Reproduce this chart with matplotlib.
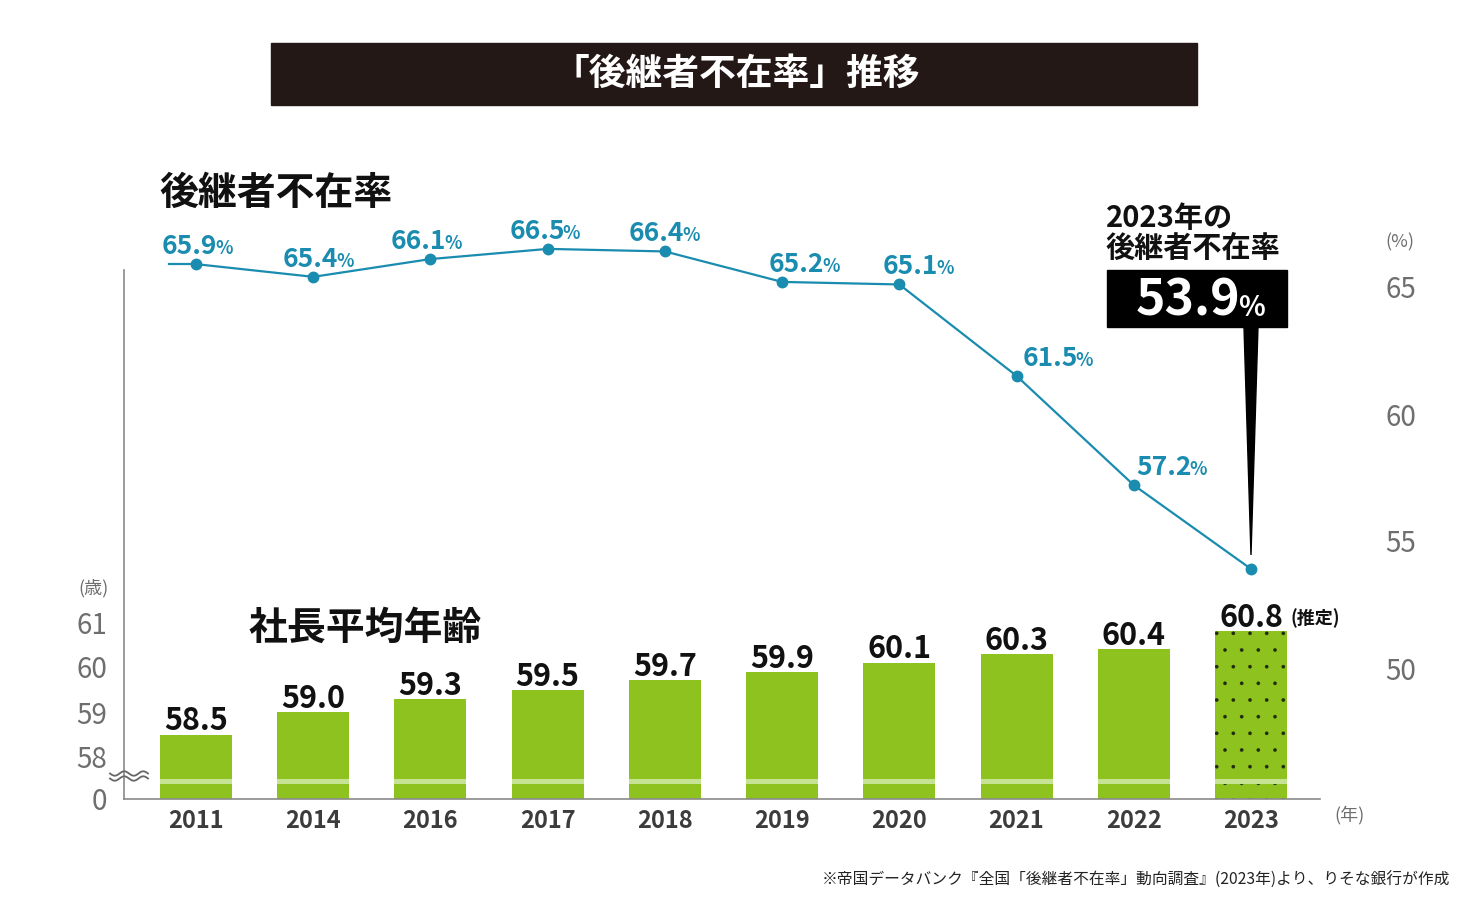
import matplotlib
matplotlib.use('Agg')
import matplotlib.pyplot as plt
from matplotlib.patches import Rectangle, Polygon
import numpy as np

# ---- Data ----
years = ['2011', '2014', '2016', '2017', '2018', '2019', '2020', '2021', '2022', '2023']
absence_rate = [65.9, 65.4, 66.1, 66.5, 66.4, 65.2, 65.1, 61.5, 57.2, 53.9]
avg_age = [58.5, 59.0, 59.3, 59.5, 59.7, 59.9, 60.1, 60.3, 60.4, 60.8]
age_ticks = [58, 59, 60, 61]
rate_ticks = [50, 55, 60, 65]

# ---- Style ----
JP = ['Noto Sans CJK JP', 'DejaVu Sans']
plt.rcParams['font.family'] = JP
plt.rcParams['hatch.linewidth'] = 0.2

W, H = 1468, 900
C_TEAL = '#1a8caf'
C_GREEN = '#8dc21f'
C_STRIPE = '#c6e293'
C_DARK = '#231815'
C_GRAY = '#6e6e6e'
C_AXIS = '#8a8a8a'

BREAK = 42 / 45      # position of "58" above the zero line (left axis units)
PX_AGE = 45          # px per year of age
PX_RATE = 25.4       # px per percentage point


def fx(px):
    return px / W


def fy(py):
    return 1 - py / H


fig = plt.figure(figsize=(W / 100, H / 100), dpi=100)

# ---- Title bar ----
fig.patches.append(Rectangle((fx(271), fy(105)), fx(1197 - 271), (105 - 43) / H,
                             transform=fig.transFigure, color=C_DARK, zorder=0))
fig.text(fx(736), fy(74), '「後継者不在率」推移', color='white', fontsize=26.5,
         fontweight='bold', ha='center', va='center')

# ---- Axes ----
ax_l, ax_r, ax_b, ax_t = 124, 1320, 799, 200
ax = fig.add_axes([fx(ax_l), fy(ax_b), (ax_r - ax_l) / W, (ax_b - ax_t) / H])
x = np.arange(len(years))
step = 117.2
ax.set_xlim(-(196 - ax_l) / step, len(years) - 1 + (ax_r - 1251) / step)
ax.set_ylim(0, (ax_b - ax_t) / PX_AGE)

heights = [BREAK + (a - 58) for a in avg_age]
bw = 72 / step
ax.bar(x[:-1], heights[:-1], width=bw, color=C_GREEN, linewidth=0, zorder=2)
ax.bar(x[-1:], heights[-1:], width=bw, color=C_GREEN, edgecolor='#1f2a10',
       linewidth=0, hatch='.', zorder=2)
# light break stripe across bars
ax.bar(x, [5 / PX_AGE] * len(x), bottom=15 / PX_AGE, width=bw, color=C_STRIPE,
       linewidth=0, zorder=3)

for i, (h, a) in enumerate(zip(heights, avg_age)):
    ax.annotate(f'{a:.1f}', (x[i], h), xytext=(0, -3), textcoords='offset pixels',
                ha='center', va='bottom', fontsize=22, fontweight='bold',
                color='#111111', zorder=5)
ax.annotate('(推定)', (x[-1], heights[-1]), xytext=(40, 3), textcoords='offset pixels',
            ha='left', va='bottom', fontsize=13, fontweight='bold', color='#111111')

ax.set_yticks([0] + [BREAK + (t - 58) for t in age_ticks])
ax.set_yticklabels(['0'] + [str(t) for t in age_ticks])
ax.tick_params(axis='y', length=0, pad=12, labelsize=20, labelcolor=C_GRAY)
ax.set_xticks(x)
ax.set_xticklabels(years)
ax.tick_params(axis='x', length=0, pad=7, labelsize=17, labelcolor='#3c3c3c')
for lab in ax.get_xticklabels():
    lab.set_fontweight('bold')
for s in ['top', 'right']:
    ax.spines[s].set_visible(False)
ax.spines['left'].set_bounds(0, (ax_b - 270) / PX_AGE)
for s in ['left', 'bottom']:
    ax.spines[s].set_color(C_AXIS)
    ax.spines[s].set_linewidth(1.2)

# break marks on left axis
wx = np.linspace(110, 148, 80)
for yc in (773.5, 778.5):
    wy = yc + 2.2 * np.sin((wx - 110) / 19 * 2 * np.pi)
    fig.lines.append(plt.Line2D(fx(wx), fy(wy), transform=fig.transFigure,
                                color='#666666', lw=1.3))

# ---- Rate line (right axis) ----
ax2 = ax.twinx()
r0 = 65 - (ax_b - 287) / PX_RATE
ax2.set_ylim(r0, r0 + (ax_b - ax_t) / PX_RATE)
ax2.plot([x[0] - 0.23, x[0]], [absence_rate[0], absence_rate[0]], color=C_TEAL, lw=1.6)
ax2.plot(x, absence_rate, color=C_TEAL, lw=1.6, marker='o', markersize=7.5, zorder=4)
ax2.set_yticks(rate_ticks)
ax2.tick_params(axis='y', length=0, pad=47, labelsize=20, labelcolor=C_GRAY)
for s in ax2.spines.values():
    s.set_visible(False)

label_dx = [-35, -31, -40, -39, -37, -14, -17, 5, 2]
for i, v in enumerate(absence_rate[:-1]):
    ax2.annotate(f'{v:.1f}', (x[i], v), xytext=(label_dx[i] + 56, 10),
                 textcoords='offset pixels', ha='right', va='baseline',
                 fontsize=19, fontweight='bold', color=C_TEAL)
    ax2.annotate('%', (x[i], v), xytext=(label_dx[i] + 54, 10),
                 textcoords='offset pixels', ha='left', va='baseline',
                 fontsize=13, fontweight='bold', color=C_TEAL)

# ---- Callout for 2023 ----
tip = ax2.transData.transform((x[-1], absence_rate[-1]))
tip_x, tip_y = tip[0] / W, tip[1] / H
fig.patches.append(Polygon([(tip_x - fx(7), fy(327)), (tip_x + fx(7), fy(327)),
                            (tip_x, tip_y + 14 / H)], closed=True,
                           transform=fig.transFigure, color='black', zorder=5))
fig.patches.append(Rectangle((fx(1107), fy(327)), fx(1287 - 1107), (327 - 270) / H,
                             transform=fig.transFigure, color='black', zorder=5))
fig.text(fx(1240), fy(316), f'{absence_rate[-1]:.1f}', color='white', fontsize=36,
         fontweight='bold', ha='right', va='baseline', zorder=6)
fig.text(fx(1238), fy(316), '%', color='white', fontsize=20,
         fontweight='bold', ha='left', va='baseline', zorder=6)
fig.text(fx(1106), fy(263), '2023年の\n後継者不在率', fontsize=21, fontweight='bold',
         ha='left', va='bottom', linespacing=1.0, color='#111111')

# ---- Headings / units ----
fig.text(fx(159), fy(193), '後継者不在率', fontsize=28, fontweight='bold',
         ha='left', va='center', color='#111111')
fig.text(fx(249), fy(628), '社長平均年齢', fontsize=28, fontweight='bold',
         ha='left', va='center', color='#111111')
fig.text(fx(1400), fy(242), '(%)', fontsize=13, ha='center', va='center', color=C_GRAY)
fig.text(fx(94), fy(588), '(歳)', fontsize=13, ha='center', va='center', color=C_GRAY)
fig.text(fx(1350), fy(815), '(年)', fontsize=13, ha='center', va='center', color=C_GRAY)
fig.text(fx(1450), fy(880),
         '※帝国データバンク『全国「後継者不在率」動向調査』(2023年)より、りそな銀行が作成',
         fontsize=11.3, ha='right', va='center', color='#222222')

fig.savefig('out.png', dpi=100, facecolor='white')
